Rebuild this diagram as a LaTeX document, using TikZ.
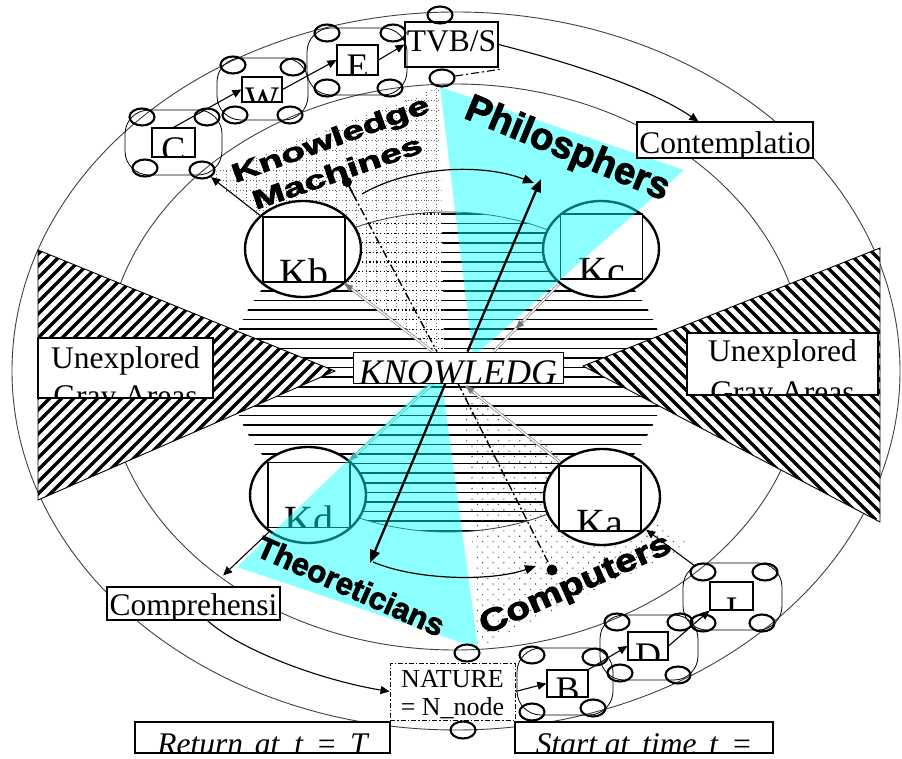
\documentclass[tikz,border=0pt]{standalone}
\usepackage{fontspec}
\setmainfont{Liberation Serif}
\newfontfamily\wordart[FakeBold=2.5]{Liberation Sans Bold}
\usetikzlibrary{shapes.geometric,arrows.meta,patterns.meta,calc}
\pgfdeclarelayer{rings}
\pgfdeclarelayer{hatch}
\pgfdeclarelayer{kays}
\pgfdeclarelayer{edges}
\pgfdeclarelayer{tint}
\pgfdeclarelayer{top}
\pgfsetlayers{rings,hatch,kays,edges,tint,main,top}

\definecolor{aqua}{RGB}{0,255,255}

\newcommand\lblfont{\fontsize{31.5}{38}\selectfont}
\newcommand\lblital{\fontsize{31.5}{38}\selectfont\itshape}
\newcommand\knowfont{\fontsize{36}{40}\selectfont\itshape}
\newcommand\letfont{\fontsize{36}{40}\selectfont}
\newcommand\kfont{\fontsize{40}{44}\selectfont}
\newcommand\natfont{\fontsize{26}{30}\selectfont}

\tikzset{
  ring/.style={draw=black!75, line width=0.9pt},
  tbox/.style={draw, fill=white, inner sep=0pt, line width=1.1pt},
  txt/.style n args={3}{path picture={\node[inner sep=0pt, anchor=base, font=#1] at ([yshift=-#2]path picture bounding box.north) {#3};}},
  txttwo/.style n args={5}{path picture={
      \node[inner sep=0pt, anchor=base, font=#1] at ([yshift=-#2]path picture bounding box.north) {#3};
      \node[inner sep=0pt, anchor=base, font=#1] at ([yshift=-#4]path picture bounding box.north) {#5};}},
  kcirc/.style={ellipse, draw, line width=2.4pt, fill=white, minimum width=116pt, minimum height=96pt, inner sep=0pt},
  ksq/.style={draw, fill=white, line width=1.1pt, minimum width=82pt, minimum height=65pt, inner sep=0pt},
  smallc/.style={ellipse, draw, line width=2.1pt, minimum width=25pt, minimum height=17pt, inner sep=0pt},
  grp/.style={draw, line width=0.8pt, rounded corners=24pt, inner sep=0pt},
  sarr/.style={line width=1.1pt, -{Triangle[length=9pt,width=8pt]}},
  bigarr/.style={line width=2.3pt, -{Triangle[length=13pt,width=10pt]}},
  carr/.style={line width=1.2pt, -{Triangle[length=11pt,width=9pt]}},
  ddot/.style={line width=1.4pt, dash pattern=on 8pt off 3pt on 2pt off 3pt},
  gdbl/.style={draw=black!50, line width=0.7pt, double=white, double distance=1.3pt},
  gtip/.style={draw=black!55, line width=0.7pt, -{Triangle[length=8pt,width=7pt]}},
  griddot/.style={draw=black!60, line width=0.7pt, dash pattern=on 0.7pt off 2.6pt},
  hdot/.style={line width=1.3pt, dash pattern=on 1.3pt off 2.3pt},
  wa/.style={inner sep=0pt},
  pindot/.style={circle, fill, inner sep=0pt, minimum size=10pt},
  cyanwedge/.style={fill=aqua, fill opacity=0.45},
}

\begin{document}
\begin{tikzpicture}[x=1pt,y=-1pt]
\useasboundingbox (0,0) rectangle (902,759);

% ---------- the two rings of the cycle
\begin{pgfonlayer}{rings}
  \fill[white] (0,0) rectangle (902,759);
  \draw[ring] (456,371) ellipse [x radius=444, y radius=359];
  \draw[ring] (455,367) ellipse [x radius=350, y radius=283];
\end{pgfonlayer}

% ---------- hatched knowledge core, gray areas, sectors
\begin{pgfonlayer}{hatch}
  \begin{scope}
    \clip (448,372) ellipse [x radius=217, y radius=160];
    \foreach \k in {0,...,33} \draw[line width=1.5pt] (225,214+\k*9.6) -- (672,214+\k*9.6);
  \end{scope}
  % left gray area
  \fill[white] (38,250) -- (335,371) -- (38,500) -- cycle;
  \begin{scope}
    \clip (38,250) -- (335,371) -- (38,500) -- cycle;
    \foreach \k in {-21,...,29} \draw[line width=3.2pt] (\k*12,520) -- ++(300,-300);
  \end{scope}
  \draw[line width=0.9pt] (38,250) -- (335,371) -- (38,500) -- cycle;
  % right gray area
  \fill[white] (880,248) -- (583,366) -- (880,522) -- cycle;
  \begin{scope}
    \clip (880,248) -- (583,366) -- (880,522) -- cycle;
    \foreach \k in {22,...,75} \draw[line width=3.2pt] (\k*12,220) -- ++(300,300);
  \end{scope}
  \draw[line width=0.9pt] (880,248) -- (583,366) -- (880,522) -- cycle;
  % knowledge machines sector: dotted grid
  \fill[white] (205,176) -- (440,87) -- (444,357) -- cycle;
  \begin{scope}
    \clip (205,176) -- (440,87) -- (444,357) -- cycle;
    \foreach \x in {206,216,...,446} \draw[griddot] (\x,85) -- (\x,360);
    \foreach \y in {90,100,...,210} \draw[griddot] (200,\y) -- (450,\y);
    \clip (448,372) ellipse [x radius=217, y radius=160];
    \foreach \k in {0,...,16} \draw[hdot] (200,214+\k*9.6) -- (450,214+\k*9.6);
  \end{scope}
  % computers sector: dots
  \fill[pattern={Dots[distance=7.5pt,radius=0.75pt,angle=45]}, pattern color=black!75]
    (463,385) -- (690,545) -- (478,648) -- cycle;
  % core outline between the circles
  \draw[line width=0.8pt, black!80] plot[domain=-116:-60, samples=40] ({448+217*cos(\x)},{372+160*sin(\x)});
  \draw[line width=0.8pt, black!80] plot[domain=60:116, samples=40] ({448+217*cos(\x)},{372+160*sin(\x)});
\end{pgfonlayer}

% ---------- the four knowledge circles
\begin{pgfonlayer}{kays}
  \node[kcirc] (kb) at (303,249) {};
  \node[kcirc] (kc) at (601,249) {};
  \node[kcirc] (kd) at (308,495) {};
  \node[kcirc] (ka) at (602,497) {};
  \node[ksq, txt={\kfont}{70pt}{Kb}] (kbsq) at (304,249.5) {};
  \node[ksq, txt={\kfont}{71pt}{Kc}] (kcsq) at (601.5,246.5) {};
  \node[ksq, txt={\kfont}{71pt}{Kd}] (kdsq) at (309,495) {};
  \node[ksq, txt={\kfont}{70pt}{Ka}] (kasq) at (600,498.5) {};
\end{pgfonlayer}

% ---------- boxes, clusters
\begin{pgfonlayer}{top}
  \node[tbox, line width=0.9pt, minimum width=210pt, minimum height=31pt, txt={\knowfont}{32pt}{KNOWLEDG}] (know) at (458,367.5) {};
  \node[tbox, minimum width=175pt, minimum height=60pt, txttwo={\lblfont}{30pt}{Unexplored}{68pt}{Gray Areas}] (unexl) at (125.5,368) {};
  \node[tbox, minimum width=191pt, minimum height=62pt, txttwo={\lblfont}{28pt}{Unexplored}{69pt}{Gray Areas}] (unexr) at (782.5,364) {};
  \node[tbox, minimum width=93pt, minimum height=45pt, txt={\lblfont}{30pt}{TVB/S}] (tvb) at (451.5,44.5) {};
  \node[tbox, minimum width=176pt, minimum height=36pt, txt={\lblfont}{32pt}{Contemplatio}] (cont) at (725,140) {};
  \node[tbox, minimum width=173pt, minimum height=33pt, txt={\lblfont}{28pt}{Comprehensi}] (compr) at (193.5,603.5) {};
  \node[tbox, line width=0.9pt, dash pattern=on 5pt off 2pt on 1.5pt off 2pt, minimum width=125pt, minimum height=57pt,
        txttwo={\natfont}{24pt}{NATURE}{52pt}{= N\_node}] (nature) at (452.5,691.5) {};
  \node[tbox, minimum width=255pt, minimum height=31pt,
        txt={\lblital}{32pt}{Return\hspace{4pt} at\hspace{7pt} t\hspace{5pt} =\hspace{5pt} T}] (ret) at (262.5,737.5) {};
  \node[tbox, minimum width=258pt, minimum height=31pt,
        txt={\lblital}{32pt}{Start at\hspace{5pt} time\hspace{5pt} t\hspace{5pt} =}] (start) at (644,737.5) {};

  % cluster C
  \node[grp, minimum width=97pt, minimum height=65pt] (cgrp) at (173.5,142.5) {};
  \node[tbox, minimum width=43pt, minimum height=29pt, txt={\letfont}{34pt}{C}] (cbox) at (173.5,142.5) {};
  \node[smallc] (cTL) at (142,117) {};
  \node[smallc] (cTR) at (207,117) {};
  \node[smallc] (cBL) at (145,168) {};
  \node[smallc] (cBR) at (202,170) {};
  % cluster W
  \node[grp, minimum width=91pt, minimum height=62pt] (wgrp) at (262.5,89) {};
  \node[tbox, minimum width=40pt, minimum height=25pt, txt={\letfont}{35pt}{W}] (wbox) at (262,89.5) {};
  \node[smallc] (wTL) at (233,65) {};
  \node[smallc] (wTR) at (293,67) {};
  \node[smallc] (wBL) at (235,115) {};
  \node[smallc] (wBR) at (290,115) {};
  % cluster E
  \node[grp, minimum width=100pt, minimum height=67pt] (egrp) at (357,61.5) {};
  \node[tbox, minimum width=41pt, minimum height=30pt, txt={\letfont}{34pt}{E}] (ebox) at (357.5,60) {};
  \node[smallc] (eTL) at (327,33) {};
  \node[smallc] (eTR) at (393,33) {};
  \node[smallc] (eBL) at (327,88) {};
  \node[smallc] (eBR) at (390,88) {};
  % TVB/S and NATURE poles
  \node[smallc] (tvbT) at (440,15) {};
  \node[smallc] (tvbB) at (442,78) {};
  \node[smallc] (natT) at (467,653) {};
  \node[smallc] (natB) at (463,730) {};
  % cluster B
  \node[grp, minimum width=96pt, minimum height=67pt] (bgrp) at (565,681.5) {};
  \node[tbox, minimum width=41pt, minimum height=27pt, txt={\letfont}{31pt}{B}] (bbox) at (567.5,683.5) {};
  \node[smallc] (bTL) at (532,655) {};
  \node[smallc] (bTR) at (595,657) {};
  \node[smallc] (bBL) at (532,712) {};
  \node[smallc] (bBR) at (593,708) {};
  % cluster D
  \node[grp, minimum width=98pt, minimum height=65pt] (dgrp) at (649,647.5) {};
  \node[tbox, minimum width=40pt, minimum height=28pt, txt={\letfont}{35pt}{D}] (dbox) at (648,646) {};
  \node[smallc] (dTL) at (617,622) {};
  \node[smallc] (dTR) at (680,622) {};
  \node[smallc] (dBL) at (620,673) {};
  \node[smallc] (dBR) at (678,675) {};
  % cluster I
  \node[grp, minimum width=99pt, minimum height=67pt] (igrp) at (732.5,596.5) {};
  \node[tbox, minimum width=43pt, minimum height=28pt, txt={\letfont}{39pt}{I}] (ibox) at (731.5,596) {};
  \node[smallc] (iTL) at (703,572) {};
  \node[smallc] (iTR) at (765,572) {};
  \node[smallc] (iBL) at (703,623) {};
  \node[smallc] (iBR) at (762,623) {};

  % chain arrows
  \draw[sarr] (cbox.north) -- (wbox.west);
  \draw[sarr] (wbox.east) -- (ebox.west);
  \draw[sarr] (ebox.east) -- (tvb.west);
  \draw[sarr] (kb) -- (cBR);
  \draw[sarr] (nature.east) -- (bbox.west);
  \draw[sarr] (bbox.north east) -- (dbox.west);
  \draw[sarr] (dbox.east) -- (ibox.south west);
  \draw[sarr] (iTL) -- (ka);
  \draw[sarr, shorten >=16pt] (kd) -- (compr);
\end{pgfonlayer}

% ---------- gray return paths along the sectors
\begin{pgfonlayer}{edges}
  \coordinate (g1s) at ($(know.north west)!0.38!(know.north east)$);
  \draw[gdbl] (g1s) -- (kb.south east);
  \draw[gtip] ($(kb.south east)!9pt!(g1s)$) -- (kb.south east);
  \coordinate (g2e) at (466,386);
  \draw[gdbl] (ka.north west) -- (g2e);
  \draw[gtip] ($(g2e)!9pt!(ka.north west)$) -- (g2e);
  \coordinate (g3e) at ($(know.north west)!0.67!(know.north east)$);
  \draw[gdbl] (kc.south west) -- (g3e);
  \draw[gtip] ($(g3e)!42pt!(kc.south west)$) -- ($(g3e)!32pt!(kc.south west)$);
  \coordinate (g4s) at ($(know.south west)!0.38!(know.south east)$);
  \draw[gdbl] (g4s) -- (kd.north east);
  \draw[gtip] ($(kd.north east)!9pt!(g4s)$) -- (kd.north east);
\end{pgfonlayer}

% ---------- cyan sectors
\begin{pgfonlayer}{tint}
  \fill[cyanwedge] (440,87) -- (684,170) -- (473,357) -- cycle;
  \fill[cyanwedge] (428,383) -- (442,383) -- (478,648) -- (237,567) -- cycle;
\end{pgfonlayer}

% ---------- pins, flows and arrows
\node[pindot] (pinkm) at (347,182) {};
\coordinate (pinkmtail) at (353,194);
\draw[line width=1.6pt] (pinkm.center) -- (pinkmtail);
\node[pindot, minimum size=11pt] (pincp) at (552,570) {};
\draw[ddot] (pinkmtail) -- ($(know.north west)!0.4!(know.north east)$);
\draw[ddot] (know.south) -- (pincp);
\coordinate (ddend) at (502,69);
\draw[ddot, line width=1.1pt] (tvbB) -- (ddend);

\coordinate (ptip) at (541,179);
\coordinate (ttip) at (370,563);
\draw[bigarr] ($(know.north west)!0.545!(know.north east)$) -- (ptip);
\draw[bigarr] ($(know.south west)!0.44!(know.south east)$) -- (ttip);

\coordinate (ca1) at (362,194);
\coordinate (ca1e) at (534,183);
\draw[carr] (ca1) .. controls (410,166) and (482,163) .. (ca1e);
\coordinate (ca2) at (373,562);
\coordinate (ca2e) at (536,566);
\draw[carr] (ca2) .. controls (415,580) and (490,582) .. (ca2e);

\draw[sarr] (tvb.east) .. controls (540,55) and (640,82) .. ($(cont.north west)!0.35!(cont.north east)$);
\draw[sarr] ($(compr.south west)!0.58!(compr.south east)$) .. controls (240,650) and (320,680) .. (nature.west);

% ---------- sector titles
\node[wa, font=\wordart\fontsize{26}{26}\selectfont, rotate=20, xscale=1.5] (kmtop) at (331,141) {Knowledge};
\node[wa, font=\wordart\fontsize{26}{26}\selectfont, rotate=19, xscale=1.5] (kmbot) at (337,172) {Machines};
\node[wa, font=\wordart\fontsize{38}{38}\selectfont, rotate=-22.5] (phil) at (567,150) {Philosphers};
\node[wa, font=\wordart\fontsize{31}{31}\selectfont, rotate=-24] (theo) at (351,586) {Theoreticians};
\node[wa, font=\wordart\fontsize{32}{32}\selectfont, rotate=24, xscale=1.22] (compu) at (576,586) {Computers};

\end{tikzpicture}
\end{document}
